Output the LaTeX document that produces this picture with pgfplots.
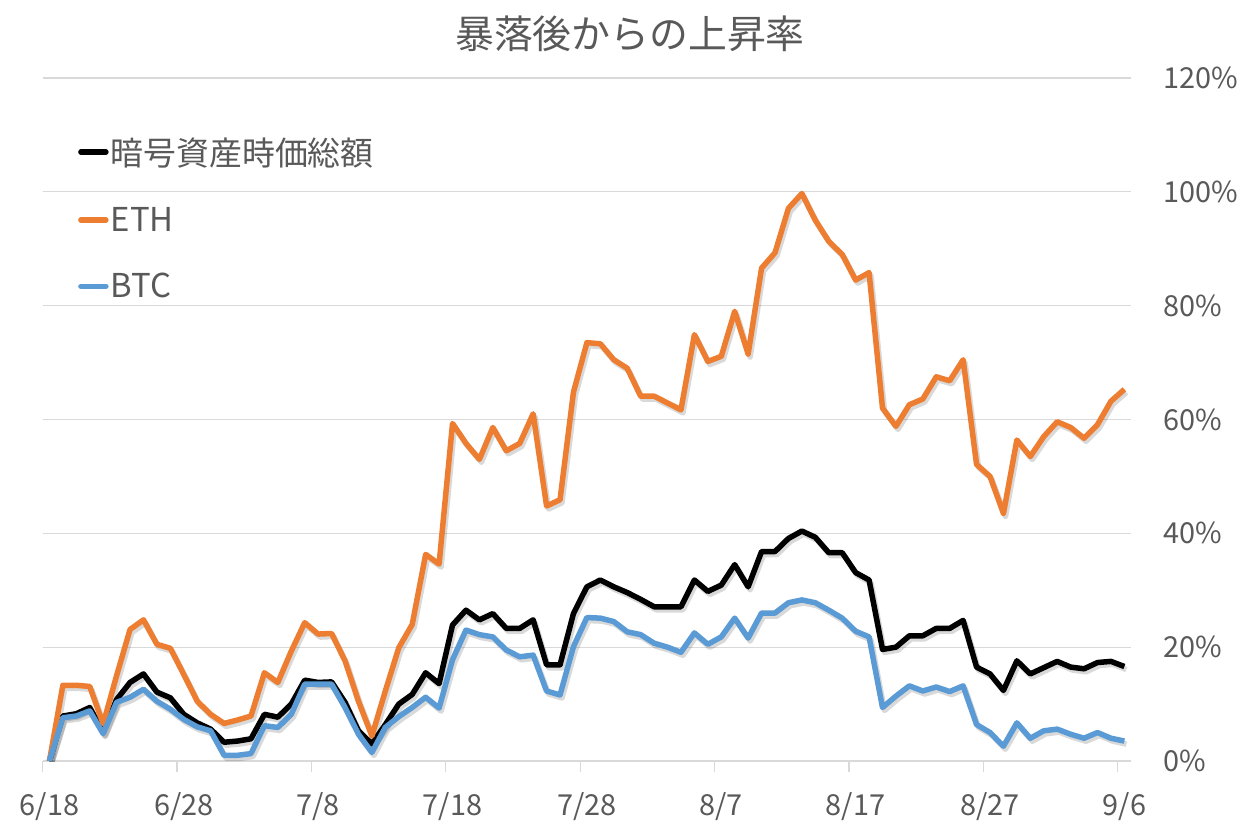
\documentclass[border=0pt]{standalone}
\usepackage{fontspec}
\setmainfont{Noto Sans CJK JP}
\usepackage{pgfplots}
\pgfplotsset{compat=1.18}
\usepackage{pgfplotstable}
\definecolor{ethc}{HTML}{ED7D31}
\definecolor{btcc}{HTML}{5B9BD5}
\definecolor{txtc}{HTML}{595959}
\definecolor{gridc}{HTML}{D9D9D9}

\pgfplotstableread{
d v
0 0
1 7.9
2 8.3
3 9.4
4 5.0
5 10.8
6 13.8
7 15.3
8 12.1
9 11.1
10 8.2
11 6.7
12 5.6
13 3.3
14 3.5
15 3.9
16 8.2
17 7.7
18 10.0
19 14.2
20 13.8
21 13.9
22 10.3
23 5.3
24 3.0
25 6.4
26 10.0
27 11.7
28 15.5
29 13.6
30 23.9
31 26.5
32 24.8
33 25.9
34 23.3
35 23.3
36 24.8
37 16.9
38 16.9
39 25.9
40 30.6
41 31.8
42 30.6
43 29.6
44 28.4
45 27.1
46 27.1
47 27.1
48 31.8
49 29.8
50 30.9
51 34.5
52 30.6
53 36.8
54 36.8
55 39.1
56 40.4
57 39.3
58 36.6
59 36.6
60 33.1
61 31.8
62 19.6
63 20.0
64 22.0
65 22.0
66 23.3
67 23.3
68 24.7
69 16.5
70 15.3
71 12.4
72 17.6
73 15.3
74 16.4
75 17.5
76 16.5
77 16.2
78 17.3
79 17.5
80 16.6
}\total

\pgfplotstableread{
d v
0 0
1 13.3
2 13.3
3 13.1
4 6.5
5 15.0
6 23.1
7 24.8
8 20.5
9 19.8
10 15.2
11 10.5
12 8.2
13 6.6
14 7.2
15 7.9
16 15.5
17 13.8
18 19.3
19 24.3
20 22.3
21 22.4
22 17.6
23 10.5
24 4.4
25 12.3
26 19.9
27 24.0
28 36.3
29 34.6
30 59.3
31 55.8
32 53.0
33 58.6
34 54.5
35 55.8
36 61.0
37 44.8
38 45.9
39 64.8
40 73.5
41 73.3
42 70.5
43 69.0
44 64.1
45 64.1
46 62.9
47 61.7
48 74.9
49 70.2
50 71.1
51 79.0
52 71.5
53 86.6
54 89.3
55 97.1
56 99.7
57 95.0
58 91.3
59 89.0
60 84.5
61 85.8
62 62.0
63 58.8
64 62.6
65 63.6
66 67.5
67 66.8
68 70.5
69 52.1
70 50.0
71 43.5
72 56.4
73 53.5
74 57.0
75 59.6
76 58.6
77 56.7
78 59.1
79 63.2
80 65.3
}\eth

\pgfplotstableread{
d v
0 0
1 7.6
2 7.9
3 8.8
4 4.8
5 10.3
6 11.2
7 12.6
8 10.5
9 9.1
10 7.3
11 6.0
12 5.3
13 1.0
14 1.0
15 1.3
16 6.2
17 5.9
18 8.2
19 13.5
20 13.5
21 13.5
22 9.4
23 4.7
24 1.5
25 5.9
26 7.8
27 9.4
28 11.2
29 9.3
30 17.8
31 23.0
32 22.2
33 21.8
34 19.5
35 18.3
36 18.6
37 12.3
38 11.6
39 20.1
40 25.2
41 25.1
42 24.5
43 22.7
44 22.2
45 20.7
46 20.0
47 19.1
48 22.5
49 20.5
50 21.8
51 25.1
52 21.6
53 26.0
54 26.0
55 27.8
56 28.3
57 27.8
58 26.5
59 25.1
60 22.8
61 21.8
62 9.4
63 11.4
64 13.2
65 12.3
66 13.0
67 12.2
68 13.2
69 6.4
70 5.0
71 2.6
72 6.7
73 4.0
74 5.3
75 5.6
76 4.7
77 4.0
78 5.0
79 4.0
80 3.5
}\btc

\begin{document}
\begin{tikzpicture}
\fill[white] (-42.7bp,-69bp) rectangle (1217.3bp,761bp);
\begin{axis}[
  name=main, at={(0,0)}, anchor=south west,
  scale only axis, width=1088.5bp, height=683bp,
  xmin=-0.5, xmax=80.5, ymin=0, ymax=120,
  axis line style={draw=none},
  ymajorgrids, grid style={draw=gridc, line width=1.3bp},
  ytick={0,20,40,60,80,100,120},
  yticklabels={0\%,20\%,40\%,60\%,80\%,100\%,120\%},
  ytick pos=right, yticklabel pos=right,
  ytick style={draw=none},
  yticklabel style={anchor=west, inner sep=0pt, xshift=21bp, font=\fontsize{29}{29}\selectfont, text=txtc},
  tick align=outside, major tick length=11bp,
  xtick={-0.5,9.5,19.5,29.5,39.5,49.5,59.5,69.5,79.5},
  xticklabels={,,,,,,,,},
  xtick pos=bottom,
  xtick style={draw=gridc, line width=1.3bp},
  extra x ticks={0,10,20,30,40,50,60,70,80},
  extra x tick labels={6/18,6/28,7/8,7/18,7/28,8/7,8/17,8/27,9/6},
  extra x tick style={xtick style={draw=none}},
  xticklabel style={anchor=north, inner sep=0pt, yshift=-20bp, font=\fontsize{29}{29}\selectfont, text=txtc},
  title={暴落後からの上昇率},
  title style={at={(axis description cs:0.5396,1)}, anchor=center, yshift=38bp, font=\fontsize{39}{39}\selectfont, text=txtc},
  legend cell align=left,
  legend style={at={(axis description cs:0.0324,0.916)}, anchor=north west, draw=none, fill=none,
    inner sep=0pt, row sep=36.5bp, font=\fontsize{33}{33}\selectfont, text=txtc},
  legend image code/.code={\draw[#1, line width=5.5bp, line cap=round] (2.5bp,0bp) -- (27.5bp,0bp);},
]
\addplot[forget plot, draw=black, opacity=0.15, line width=5.5bp, line join=round, xshift=2bp, yshift=-3bp] table[x=d,y=v] {\total};
\addplot[forget plot, draw=black, opacity=0.15, line width=5.5bp, line join=round, xshift=2bp, yshift=-3bp] table[x=d,y=v] {\eth};
\addplot[forget plot, draw=black, opacity=0.15, line width=5.5bp, line join=round, xshift=2bp, yshift=-3bp] table[x=d,y=v] {\btc};
\addplot[draw=black, line width=5.5bp, line join=round] table[x=d,y=v] {\total};
\addlegendentry{暗号資産時価総額}
\addplot[draw=ethc, line width=5.5bp, line join=round] table[x=d,y=v] {\eth};
\addlegendentry{ETH}
\addplot[draw=btcc, line width=5.5bp, line join=round] table[x=d,y=v] {\btc};
\addlegendentry{BTC}
\end{axis}
\pgfresetboundingbox
\path[use as bounding box] (-42.7bp,-69bp) rectangle (1217.3bp,761bp);
\end{tikzpicture}
\end{document}
